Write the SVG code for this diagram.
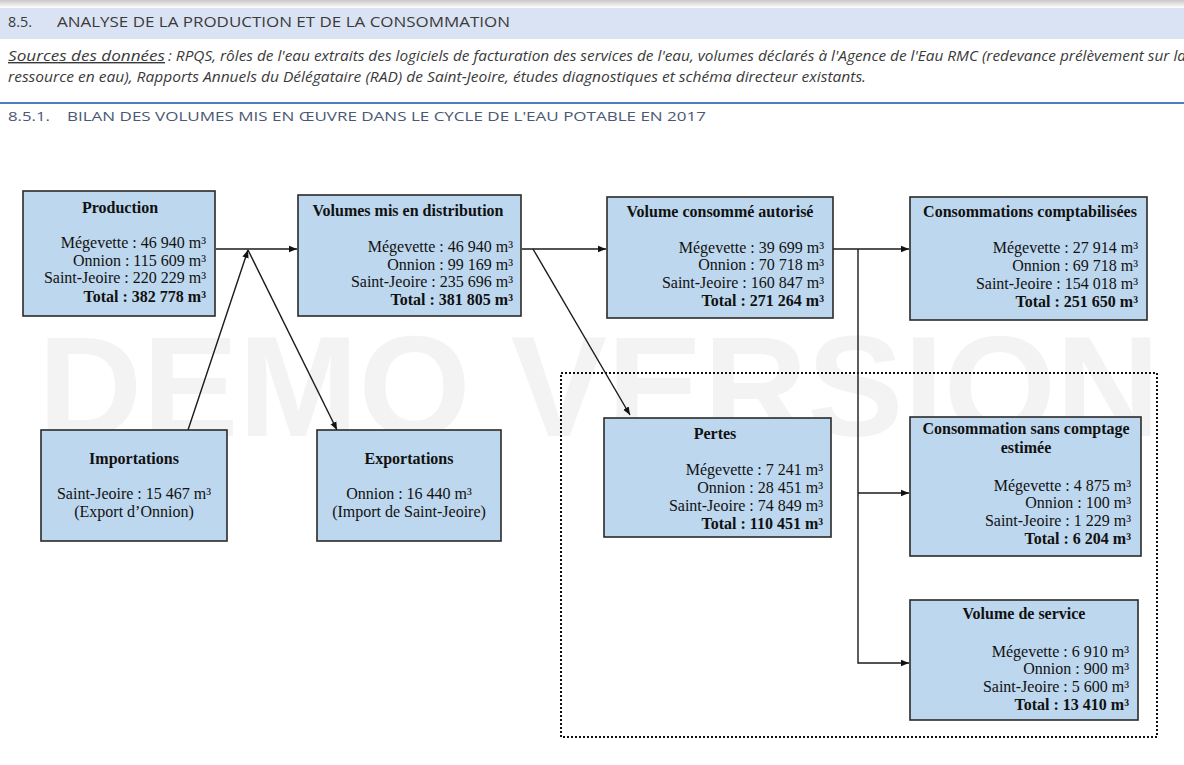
<svg xmlns="http://www.w3.org/2000/svg" width="1184" height="765" viewBox="0 0 1184 765">
<defs>
<linearGradient id="shadow" x1="0" y1="0" x2="0" y2="1">
<stop offset="0" stop-color="#c8c8c8"/>
<stop offset="1" stop-color="#ffffff"/>
</linearGradient>
<marker id="arr" viewBox="0 0 10 10" refX="10" refY="5" markerWidth="8" markerHeight="8" markerUnits="userSpaceOnUse" orient="auto">
<path d="M0,1 L10,5 L0,9 Z" fill="#111"/>
</marker>
<style>
.box{fill:#bdd7ee;stroke:#2a2a2a;stroke-width:1.6}
.t{font-family:"Liberation Serif","Times New Roman",serif;font-size:16px;fill:#111}
.b{font-weight:bold;text-anchor:middle}
.r{text-anchor:end}
.c{text-anchor:middle}
.con{fill:none;stroke:#1a1a1a;stroke-width:1.4}
.hd{font-family:"Open Sans","Noto Sans",sans-serif;fill:#3a3a3a}
</style>
</defs>
<rect width="1184" height="765" fill="#ffffff"/>
<rect x="0" y="0" width="1184" height="8" fill="url(#shadow)"/>
<rect x="0" y="8" width="1184" height="31" fill="#dae3f3"/>
<text class="hd" x="8" y="27" font-size="14" textLength="24" lengthAdjust="spacingAndGlyphs">8.5.</text>
<text class="hd" x="57" y="27" font-size="14" textLength="453" lengthAdjust="spacingAndGlyphs">ANALYSE DE LA PRODUCTION ET DE LA CONSOMMATION</text>
<text class="hd" x="8" y="61" font-size="14" font-style="italic" text-decoration="underline" textLength="157" lengthAdjust="spacingAndGlyphs">Sources des données</text>
<text class="hd" x="168" y="61" font-size="14" font-style="italic" textLength="1018" lengthAdjust="spacingAndGlyphs">: RPQS, rôles de l'eau extraits des logiciels de facturation des services de l'eau, volumes déclarés à l'Agence de l'Eau RMC (redevance prélèvement sur la</text>
<text class="hd" x="8" y="82" font-size="14" font-style="italic" textLength="858" lengthAdjust="spacingAndGlyphs">ressource en eau), Rapports Annuels du Délégataire (RAD) de Saint-Jeoire, études diagnostiques et schéma directeur existants.</text>
<line x1="0" y1="103" x2="1184" y2="103" stroke="#4f7cc4" stroke-width="2"/>
<text x="8" y="121" font-family="Open Sans,Noto Sans,sans-serif" font-size="13" fill="#4a5873" textLength="42" lengthAdjust="spacingAndGlyphs">8.5.1.</text>
<text x="67" y="121" font-family="Open Sans,Noto Sans,sans-serif" font-size="13" fill="#4a5873" textLength="639" lengthAdjust="spacingAndGlyphs">BILAN DES VOLUMES MIS EN ŒUVRE DANS LE CYCLE DE L'EAU POTABLE EN 2017</text>

<text x="38" y="436" font-family="Liberation Sans,Arial,sans-serif" font-weight="bold" font-size="142" fill="#f3f3f3" textLength="1122" lengthAdjust="spacingAndGlyphs">DEMO VERSION</text>

<rect x="561" y="373" width="596" height="364" fill="none" stroke="#111" stroke-width="2" stroke-dasharray="2,2"/>

<g id="connectors">
<line class="con" x1="216" y1="249" x2="297" y2="249" marker-end="url(#arr)"/>
<line class="con" x1="188" y1="430" x2="248" y2="250" marker-end="url(#arr)"/>
<line class="con" x1="248" y1="250" x2="337" y2="430" marker-end="url(#arr)"/>
<line class="con" x1="522" y1="249" x2="606" y2="249" marker-end="url(#arr)"/>
<line class="con" x1="533" y1="249" x2="630" y2="415" marker-end="url(#arr)"/>
<line class="con" x1="833" y1="249" x2="909" y2="249" marker-end="url(#arr)"/>
<polyline class="con" points="858,249 858,663 909,663" marker-end="url(#arr)"/>
<line class="con" x1="858" y1="493" x2="909" y2="493" marker-end="url(#arr)"/>
</g>

<g id="production">
<rect class="box" x="23" y="191" width="192" height="125"/>
<text class="t b" x="120" y="213">Production</text>
<text class="t r" x="206" y="248">Mégevette : 46 940 m³</text>
<text class="t r" x="206" y="266">Onnion : 115 609 m³</text>
<text class="t r" x="206" y="283">Saint-Jeoire : 220 229 m³</text>
<text class="t r" x="206" y="302" font-weight="bold">Total : 382 778 m³</text>
</g>

<g id="distribution">
<rect class="box" x="298" y="195" width="223" height="121"/>
<text class="t b" x="408" y="216">Volumes mis en distribution</text>
<text class="t r" x="513" y="252">Mégevette : 46 940 m³</text>
<text class="t r" x="513" y="270">Onnion : 99 169 m³</text>
<text class="t r" x="513" y="287">Saint-Jeoire : 235 696 m³</text>
<text class="t r" x="513" y="305" font-weight="bold">Total : 381 805 m³</text>
</g>

<g id="consomme">
<rect class="box" x="607" y="197" width="226" height="121"/>
<text class="t b" x="720" y="217">Volume consommé autorisé</text>
<text class="t r" x="824" y="253">Mégevette : 39 699 m³</text>
<text class="t r" x="824" y="270">Onnion : 70 718 m³</text>
<text class="t r" x="824" y="288">Saint-Jeoire : 160 847 m³</text>
<text class="t r" x="824" y="306" font-weight="bold">Total : 271 264 m³</text>
</g>

<g id="comptabilisees">
<rect class="box" x="910" y="197" width="237" height="123"/>
<text class="t b" x="1030" y="217">Consommations comptabilisées</text>
<text class="t r" x="1138" y="253">Mégevette : 27 914 m³</text>
<text class="t r" x="1138" y="271">Onnion : 69 718 m³</text>
<text class="t r" x="1138" y="289">Saint-Jeoire : 154 018 m³</text>
<text class="t r" x="1138" y="307" font-weight="bold">Total : 251 650 m³</text>
</g>

<g id="importations">
<rect class="box" x="41" y="430" width="186" height="111"/>
<text class="t b" x="134" y="464">Importations</text>
<text class="t c" x="134" y="499">Saint-Jeoire : 15 467 m³</text>
<text class="t c" x="134" y="517">(Export d’Onnion)</text>
</g>

<g id="exportations">
<rect class="box" x="317" y="430" width="184" height="111"/>
<text class="t b" x="409" y="464">Exportations</text>
<text class="t c" x="409" y="499">Onnion : 16 440 m³</text>
<text class="t c" x="409" y="517">(Import de Saint-Jeoire)</text>
</g>

<g id="pertes">
<rect class="box" x="604" y="418" width="227" height="119"/>
<text class="t b" x="715" y="439">Pertes</text>
<text class="t r" x="823" y="475">Mégevette : 7 241 m³</text>
<text class="t r" x="823" y="493">Onnion : 28 451 m³</text>
<text class="t r" x="823" y="511">Saint-Jeoire : 74 849 m³</text>
<text class="t r" x="823" y="529" font-weight="bold">Total : 110 451 m³</text>
</g>

<g id="sans-comptage">
<rect class="box" x="910" y="417" width="231" height="139"/>
<text class="t b" x="1026" y="434">Consommation sans comptage</text>
<text class="t b" x="1026" y="453">estimée</text>
<text class="t r" x="1131" y="491">Mégevette : 4 875 m³</text>
<text class="t r" x="1131" y="508">Onnion : 100 m³</text>
<text class="t r" x="1131" y="526">Saint-Jeoire : 1 229 m³</text>
<text class="t r" x="1131" y="544" font-weight="bold">Total : 6 204 m³</text>
</g>

<g id="service">
<rect class="box" x="910" y="600" width="228" height="120"/>
<text class="t b" x="1024" y="619">Volume de service</text>
<text class="t r" x="1129" y="657">Mégevette : 6 910 m³</text>
<text class="t r" x="1129" y="674">Onnion : 900 m³</text>
<text class="t r" x="1129" y="692">Saint-Jeoire : 5 600 m³</text>
<text class="t r" x="1129" y="710" font-weight="bold">Total : 13 410 m³</text>
</g>
</svg>
